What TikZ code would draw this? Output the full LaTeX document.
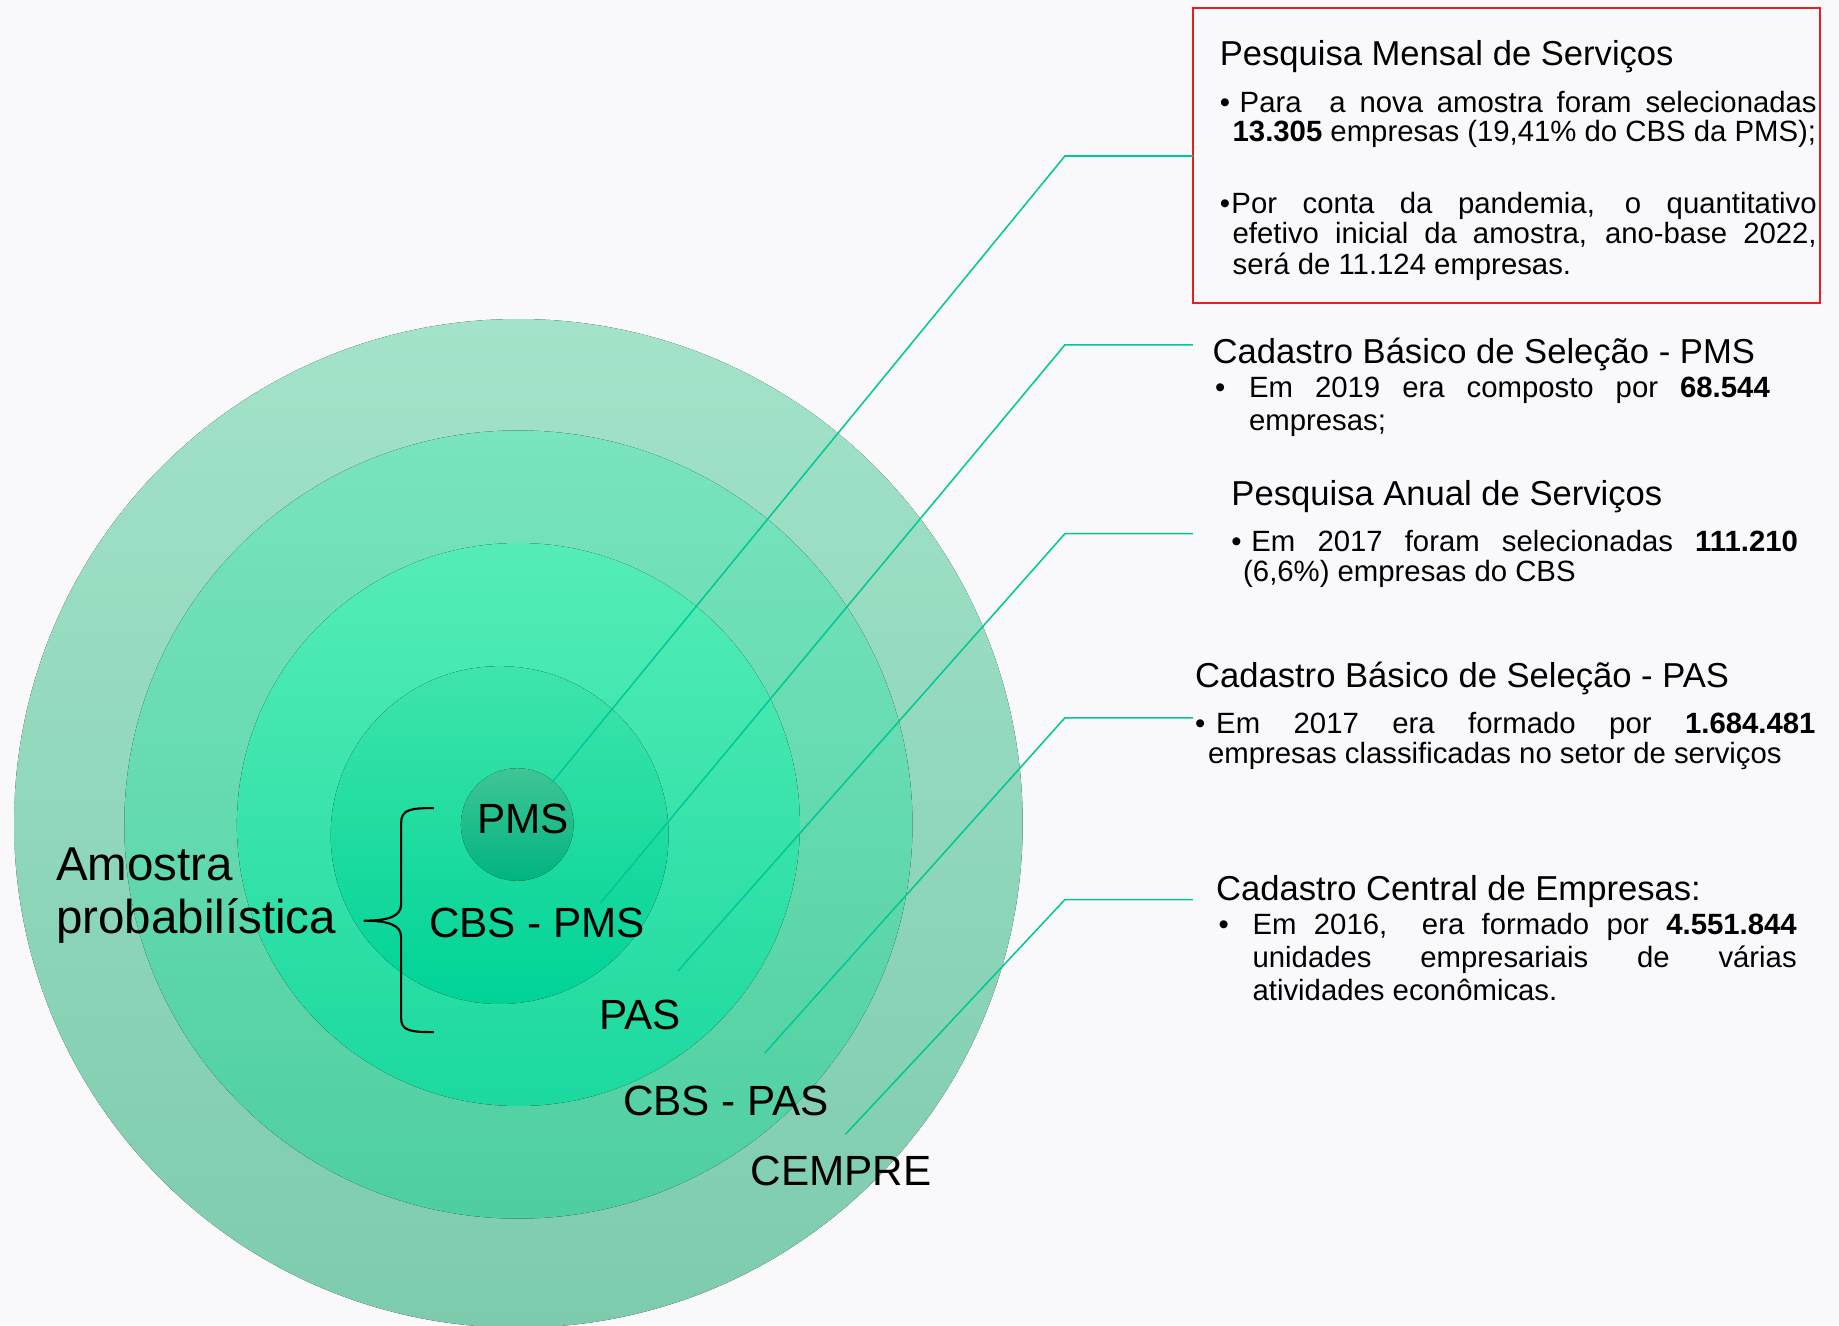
\documentclass[tikz,border=0pt]{standalone}
\usepackage{fontspec}
\setmainfont{Liberation Sans}
\definecolor{bgc}{RGB}{249,249,251}
\definecolor{linec}{RGB}{0,200,150}
\definecolor{boxred}{RGB}{232,30,36}
\definecolor{cat}{RGB}{163,227,201}
\definecolor{cab}{RGB}{125,203,173}
\definecolor{cbt}{RGB}{121,228,190}
\definecolor{cbb}{RGB}{78,207,159}
\definecolor{cct}{RGB}{85,237,183}
\definecolor{ccb}{RGB}{27,217,159}
\definecolor{cdt}{RGB}{62,228,171}
\definecolor{cdb}{RGB}{0,211,150}
\definecolor{cet}{RGB}{64,197,150}
\definecolor{ceb}{RGB}{0,180,129}
\begin{document}
\begin{tikzpicture}[x=1pt,y=-1pt,
  conn/.style={draw=linec, line width=1.3pt},
  txt/.style={anchor=base west, inner sep=0pt, outer sep=0pt, text=black},
  ttl/.style={txt, font=\fontsize{29.5}{32}\selectfont},
  bdy/.style={txt, font=\fontsize{25}{26}\selectfont},
  lbl/.style={anchor=base, inner sep=0pt, outer sep=0pt, font=\fontsize{36}{40}\selectfont},
  big/.style={txt, font=\fontsize{40.5}{44}\selectfont}]
\useasboundingbox (0,0) rectangle (1568,1130);
\fill[bgc] (0,0) rectangle (1568,1130);
% rings
\fill[top color=cat,bottom color=cab] (442,702) circle[radius=430];
\fill[top color=cbt,bottom color=cbb] (442,703) circle[radius=336];
\fill[top color=cct,bottom color=ccb] (442,703) circle[radius=240];
\fill[top color=cdt,bottom color=cdb] (426,712) circle[radius=144];
\fill[top color=cet,bottom color=ceb] (441,703) circle[radius=48];
% red box
\draw[boxred, line width=1.6pt] (1017,7) rectangle (1552,258);
% connectors
\coordinate (s1) at (470,668); \coordinate (k1) at (908,133); \coordinate (e1) at (1017,133);
\coordinate (s2) at (512,770); \coordinate (k2) at (908,294); \coordinate (e2) at (1017,294);
\coordinate (s3) at (578,828); \coordinate (k3) at (908,455); \coordinate (e3) at (1017,455);
\coordinate (s4) at (652,898); \coordinate (k4) at (908,612); \coordinate (e4) at (1017,612);
\coordinate (s5) at (721,967); \coordinate (k5) at (908,767); \coordinate (e5) at (1017,767);
\draw[conn] (s1) -- (k1) -- (e1);
\draw[conn] (s2) -- (k2) -- (e2);
\draw[conn] (s3) -- (k3) -- (e3);
\draw[conn] (s4) -- (k4) -- (e4);
\draw[conn] (s5) -- (k5) -- (e5);
% brace
\coordinate (bt) at (370,689);
\coordinate (bm) at (310,785);
\coordinate (bb) at (370,880);
\draw[line width=1.8pt] (bt) .. controls (350,689) and (342,690) .. (342,702)
  -- (342,771) .. controls (342,781) and (332,785) .. (bm)
  .. controls (332,785) and (342,789) .. (342,799)
  -- (342,868) .. controls (342,879) and (350,880) .. (bb);
% circle labels
\node[lbl] (lpms) at (446,711) {PMS};
\node[lbl] (lcbspms) at (458,799) {CBS - PMS};
\node[lbl] (lpas) at (546,878) {PAS};
\node[lbl] (lcbspas) at (619,951) {CBS - PAS};
\node[lbl] (lcempre) at (717,1011) {CEMPRE};
% left label
\node[big] (am1) at (48,751) {Amostra};
\node[big] (am2) at (48,796) {probabilística};
% block 1
\node[ttl] (t1) at (1040,56) {Pesquisa Mensal de Serviços};
\node[bdy] (b1a) at (1040,96) {•};
\node[bdy] (l1a) at (1057,96) {\makebox[492pt][s]{Para\ \ a nova amostra foram selecionadas}};
\node[bdy] (l1b) at (1051,121) {\textbf{13.305} empresas (19,41\% do CBS da PMS);};
\node[bdy] (b1b) at (1040,182) {•};
\node[bdy] (l1c) at (1050,182) {\makebox[499pt][s]{Por conta da pandemia, o quantitativo}};
\node[bdy] (l1d) at (1051,208) {\makebox[498pt][s]{efetivo inicial da amostra, ano-base 2022,}};
\node[bdy] (l1e) at (1051,234) {será de 11.124 empresas.};
% block 2
\node[ttl] (t2) at (1034,310) {Cadastro Básico de Seleção - PMS};
\node[bdy] (b2) at (1036,339) {•};
\node[bdy] (l2a) at (1065,339) {\makebox[444pt][s]{Em 2019 era composto por \textbf{68.544}}};
\node[bdy] (l2b) at (1065,367) {empresas;};
% block 3
\node[ttl] (t3) at (1050,431) {Pesquisa Anual de Serviços};
\node[bdy] (b3) at (1050,470) {•};
\node[bdy] (l3a) at (1067,470) {\makebox[466pt][s]{Em 2017 foram selecionadas \textbf{111.210}}};
\node[bdy] (l3b) at (1060,496) {(6,6\%) empresas do CBS};
% block 4
\node[ttl] (t4) at (1019,586) {Cadastro Básico de Seleção - PAS};
\node[bdy] (b4) at (1019,625) {•};
\node[bdy] (l4a) at (1037,625) {\makebox[511pt][s]{Em 2017 era formado por \textbf{1.684.481}}};
\node[bdy] (l4b) at (1030,651) {empresas classificadas no setor de serviços};
% block 5
\node[ttl] (t5) at (1037,768) {Cadastro Central de Empresas:};
\node[bdy] (b5) at (1039,797) {•};
\node[bdy] (l5a) at (1068,797) {\makebox[464pt][s]{Em 2016,\ \ era formado por \textbf{4.551.844}}};
\node[bdy] (l5b) at (1068,825) {\makebox[464pt][s]{unidades empresariais de várias}};
\node[bdy] (l5c) at (1068,853) {atividades econômicas.};
\end{tikzpicture}
\end{document}
